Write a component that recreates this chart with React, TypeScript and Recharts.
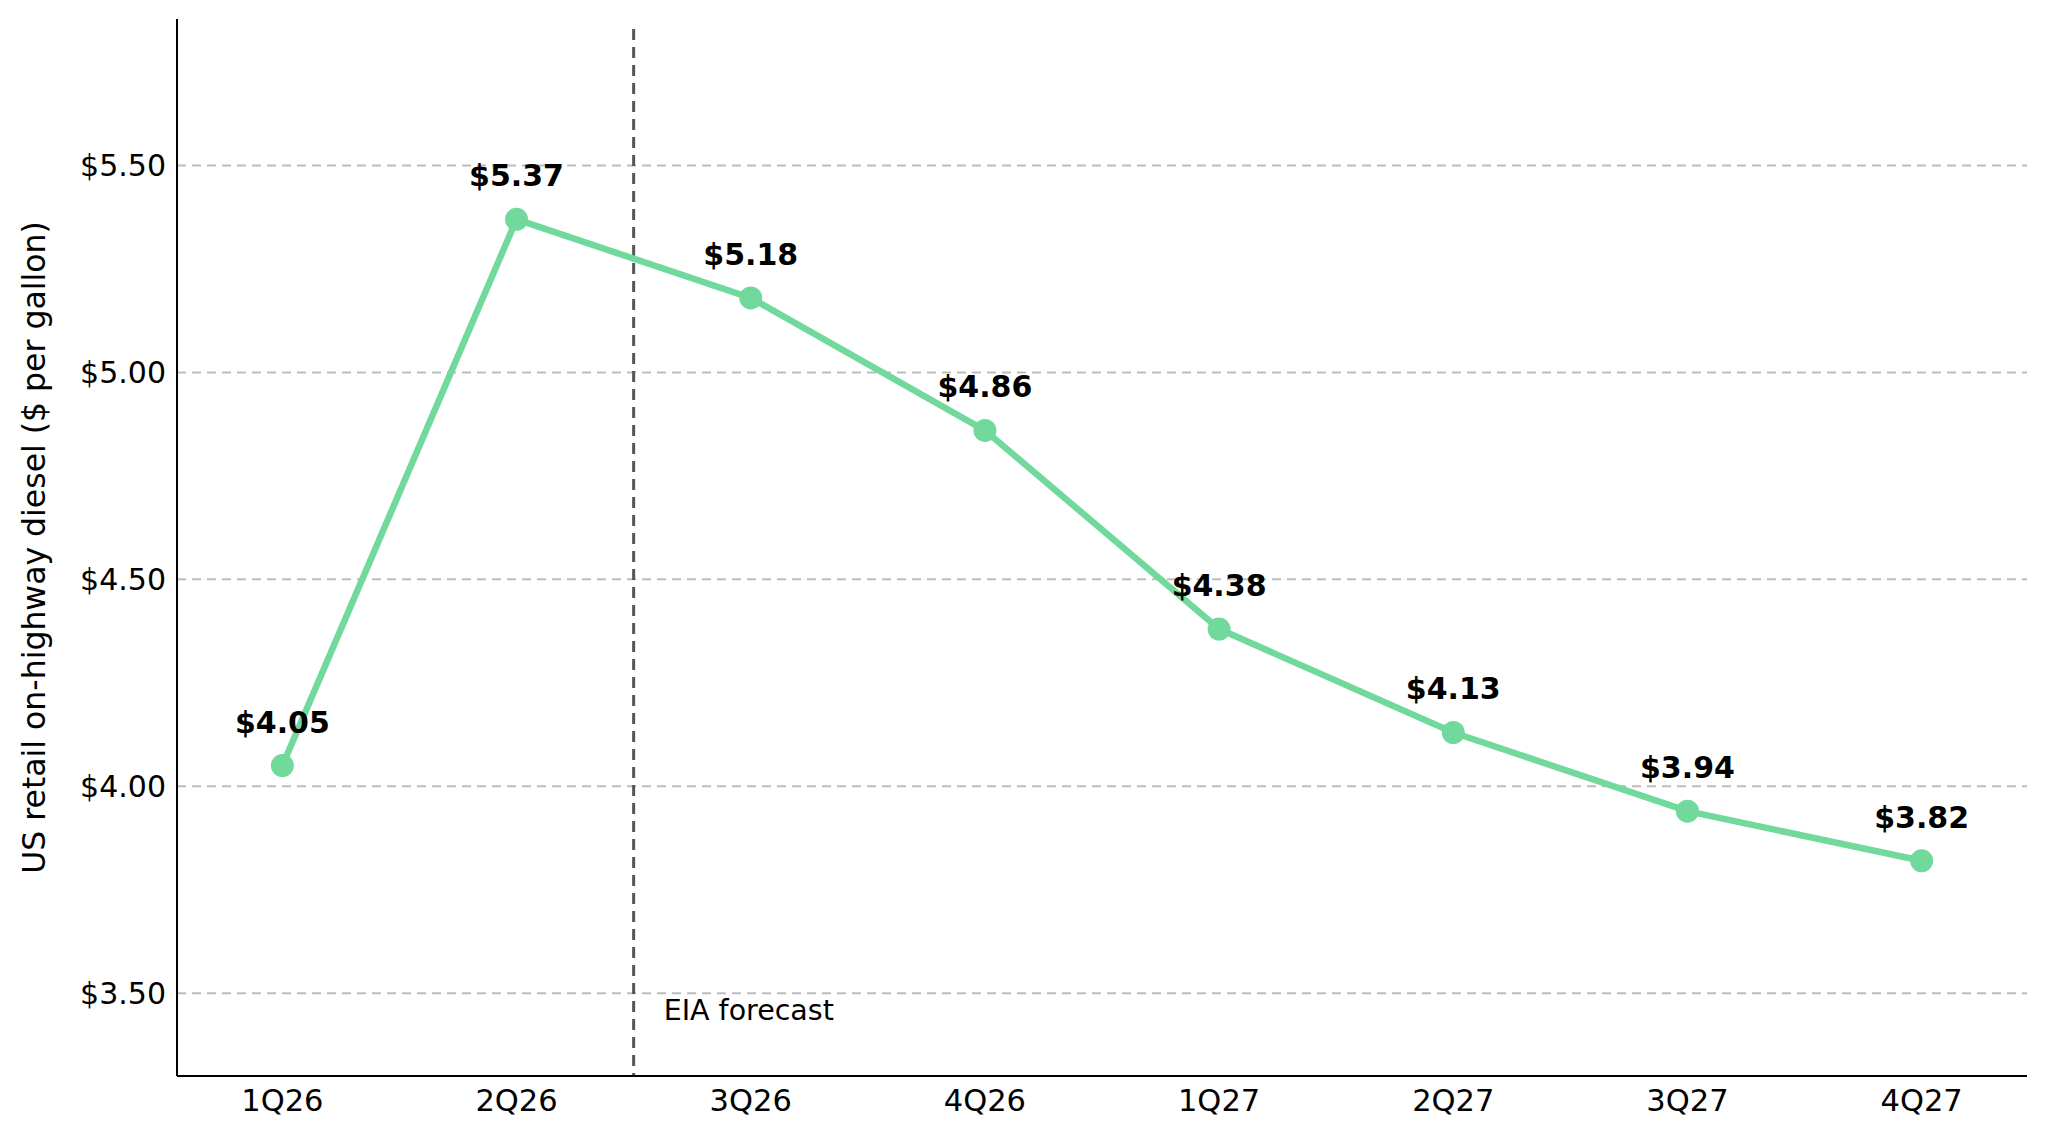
import { LineChart, Line, XAxis, YAxis, ReferenceLine, LabelList } from 'recharts';

// quarterly diesel price, EIA STEO style
const quarters = ['1Q26', '2Q26', '3Q26', '4Q26', '1Q27', '2Q27', '3Q27', '4Q27'];
const dieselPrice = [4.05, 5.37, 5.18, 4.86, 4.38, 4.13, 3.94, 3.82];
const yTicks = [3.5, 4.0, 4.5, 5.0, 5.5];
const forecastStart = 1.5; // between 2Q26 and 3Q26

const GREEN = '#70d99b';
const FONT = '"DejaVu Sans", sans-serif';

const data = quarters.map((q, i) => ({ idx: i, quarter: q, price: dieselPrice[i] }));

const money = (v: number) => `$${v.toFixed(2)}`;

export default function App() {
  return (
    <div style={{ position: 'absolute', left: 0, top: 0, background: '#fff' }}>
      <LineChart
        width={2048}
        height={1137}
        data={data}
        margin={{ top: 19, right: 21, bottom: 0, left: 0 }}
        style={{ fontFamily: FONT }}
      >
        <XAxis
          dataKey="idx"
          type="number"
          domain={[-0.45, 7.45]}
          ticks={quarters.map((_, i) => i)}
          tickFormatter={(i: number) => quarters[i]}
          allowDataOverflow
          height={61}
          axisLine={{ stroke: '#000', strokeWidth: 2 }}
          tickLine={false}
          tickSize={0}
          tickMargin={13}
          tick={{ fontSize: 30.5, fill: '#000', fontFamily: FONT }}
        />
        <YAxis
          type="number"
          domain={[3.3, 5.854]}
          ticks={yTicks}
          tickFormatter={money}
          allowDataOverflow
          width={177}
          axisLine={{ stroke: '#000', strokeWidth: 2 }}
          tickLine={false}
          tickSize={0}
          tickMargin={11}
          tick={{ fontSize: 30, fill: '#000', fontFamily: FONT }}
          label={{
            content: (props: any) => {
              const vb = props.viewBox || { x: 0, y: 19, width: 177, height: 1057 };
              const cx = 45;
              const cy = vb.y + vb.height / 2;
              return (
                <text
                  x={cx}
                  y={cy}
                  transform={`rotate(-90, ${cx}, ${cy})`}
                  textAnchor="middle"
                  fontSize={31.5}
                  fill="#000"
                  fontFamily={FONT}
                >
                  US retail on-highway diesel ($ per gallon)
                </text>
              );
            },
          }}
        />
        {/* horizontal gridlines at the y ticks only */}
        {yTicks.map((t) => (
          <ReferenceLine
            key={t}
            y={t}
            stroke="#bdbdbd"
            strokeWidth={2}
            strokeDasharray="9 6"
          />
        ))}
        <ReferenceLine
          segment={[
            { x: forecastStart, y: 5.83 },
            { x: forecastStart, y: 3.3 },
          ]}
          stroke="#555"
          strokeWidth={3}
          strokeDasharray="11 7"
          label={{
            content: (props: any) => {
              const vb = props.viewBox;
              if (!vb) return null;
              return (
                <text
                  x={vb.x + 30}
                  y={vb.y + vb.height - 56}
                  fontSize={28.5}
                  fill="#000"
                  fontFamily={FONT}
                >
                  EIA forecast
                </text>
              );
            },
          }}
        />
        <Line
          type="linear"
          dataKey="price"
          stroke={GREEN}
          strokeWidth={6.5}
          dot={{ r: 11.5, fill: GREEN, stroke: 'none' }}
          activeDot={false}
          isAnimationActive={false}
        >
          <LabelList
            dataKey="price"
            position="top"
            offset={33}
            formatter={(v: any) => money(Number(v))}
            style={{ fontSize: 30, fontWeight: 'bold', fill: '#000', fontFamily: FONT }}
          />
        </Line>
      </LineChart>
    </div>
  );
}
